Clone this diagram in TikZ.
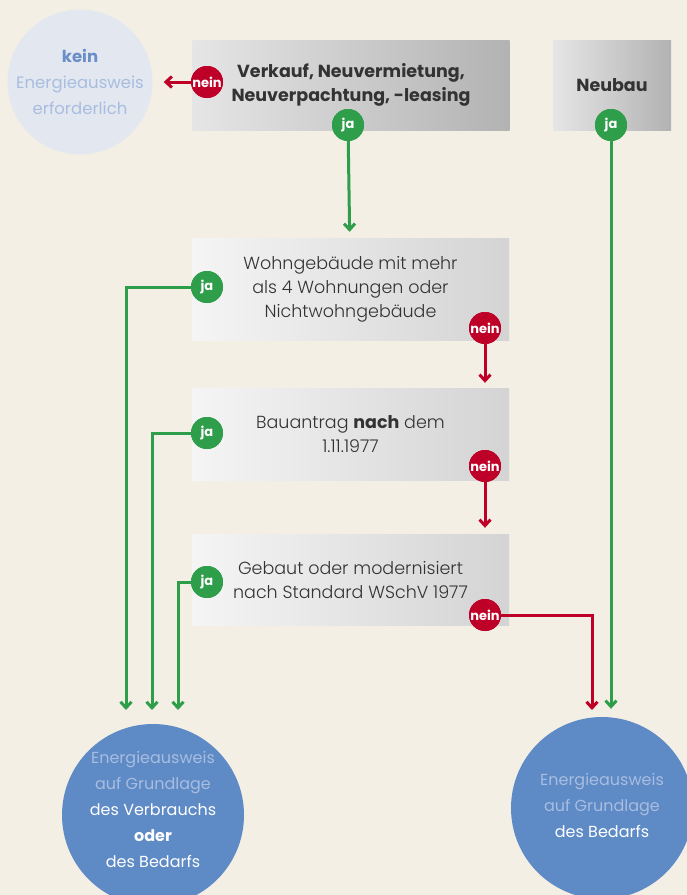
\documentclass[tikz,border=0pt]{standalone}
\usepackage{fontspec}
\setmainfont{Poppins}
\newfontfamily\lightfont{Poppins Light}
\usetikzlibrary{arrows.meta,calc}
\definecolor{bgC}{RGB}{244,239,229}
\definecolor{jaG}{RGB}{46,158,74}
\definecolor{neinR}{RGB}{190,0,40}
\definecolor{blueC}{RGB}{94,138,198}
\definecolor{paleC}{RGB}{168,189,224}
\definecolor{keinC}{RGB}{227,231,240}
\definecolor{keinT}{RGB}{106,143,200}
\definecolor{txtC}{RGB}{51,51,51}

\tikzset{
  qbox/.style={minimum width=317pt,inner sep=0pt,align=center,text=txtC,
    left color=white!96!black,right color=black!17,
    font=\fontsize{17.5}{24}\selectfont\lightfont},
  topbox/.style={qbox,left color=black!10,right color=black!30,
    font=\fontsize{17.5}{24}\selectfont\bfseries},
  badge/.style={circle,minimum size=32pt,inner sep=0pt,text=white,
    font=\fontsize{13}{13}\selectfont\bfseries},
  jab/.style={badge,fill=jaG},
  neinb/.style={badge,fill=neinR},
  result/.style={circle,minimum size=182pt,inner sep=0pt,fill=blueC},
  resulttext/.style={text=white,align=center,font=\fontsize{16}{26}\selectfont},
  gline/.style={draw=jaG,line width=3pt,-{Straight Barb[length=6pt,width=11pt]}},
  rline/.style={draw=neinR,line width=3pt,-{Straight Barb[length=6pt,width=11pt]}}
}

\begin{document}
\begin{tikzpicture}[x=1pt,y=-1pt]
\fill[bgC] (0,0) rectangle (687,895);
\useasboundingbox (0,0) rectangle (687,895);

% question boxes
\node[topbox,minimum height=90pt] (verkauf) at (351,85) {Verkauf, Neuvermietung,\\Neuverpachtung, -leasing};
\node[topbox,minimum width=118pt,minimum height=90pt] (neubau) at (612,85) {Neubau};
\node[qbox,minimum height=102pt] (wohn) at (350.5,289) {Wohngebäude mit mehr\\als 4 Wohnungen oder\\Nichtwohngebäude};
\node[qbox,minimum height=92pt] (antrag) at (350.5,434) {Bauantrag {\normalfont\bfseries nach} dem\\1.11.1977};
\node[qbox,minimum height=91pt] (wschv) at (350.5,579.5) {Gebaut oder modernisiert\\nach Standard WSchV 1977};

% results
\node[circle,minimum size=145pt,inner sep=0pt,fill=keinC,align=center,text=paleC,
  font=\fontsize{16.5}{26}\selectfont] (kein) at (80,82)
  {\textcolor{keinT}{\bfseries kein}\\Energieausweis\\erforderlich};
\node[result,label={[resulttext,yshift=6pt]center:\textcolor{paleC}{Energieausweis}\\\textcolor{paleC}{auf Grundlage}\\des Verbrauchs\\\textbf{oder}\\des Bedarfs}] (verbr) at (153,815) {};
\node[result,label={[resulttext,yshift=3pt]center:\textcolor{paleC}{Energieausweis}\\\textcolor{paleC}{auf Grundlage}\\des Bedarfs}] (bedarf) at (602,808) {};

% badges
\node[neinb] (nein1) at (207,82) {nein};
\node[jab] (ja1) at (348,125) {ja};
\node[jab] (ja0) at (611,125) {ja};
\node[jab] (ja2) at (207,287) {ja};
\node[neinb] (nein2) at (485,328) {nein};
\node[jab] (ja3) at (207,433) {ja};
\node[neinb] (nein3) at (485,466) {nein};
\node[jab] (ja4) at (207,582) {ja};
\node[neinb] (nein4) at (485,615) {nein};

% free ends above the result circles
\coordinate (endA) at (126,710);
\coordinate (endB) at (152,710);
\coordinate (endC) at (178,710);
\coordinate (endR) at (592,710);

% connectors
\draw[rline,shorten >=11pt] (nein1) -- (kein);
\draw[gline,shorten >=6pt] (ja1) -- (wohn);
\draw[gline,shorten >=8pt] (ja0) -- (ja0 |- bedarf.north);
\draw[gline] (ja2.west) -| (endA);
\draw[gline] (ja3.west) -| (endB);
\draw[gline] (ja4.west) -| (endC);
\draw[rline,shorten >=5pt] (nein2) -- (nein2 |- antrag.north);
\draw[rline,shorten >=6pt] (nein3) -- (nein3 |- wschv.north);
\draw[rline] (nein4.east) -| (endR);

% badges again on top of the lines
\foreach \b in {nein1,nein2,nein3,nein4}
  \node[neinb] at (\b) {nein};
\foreach \b in {ja0,ja1,ja2,ja3,ja4}
  \node[jab] at (\b) {ja};
\end{tikzpicture}
\end{document}
